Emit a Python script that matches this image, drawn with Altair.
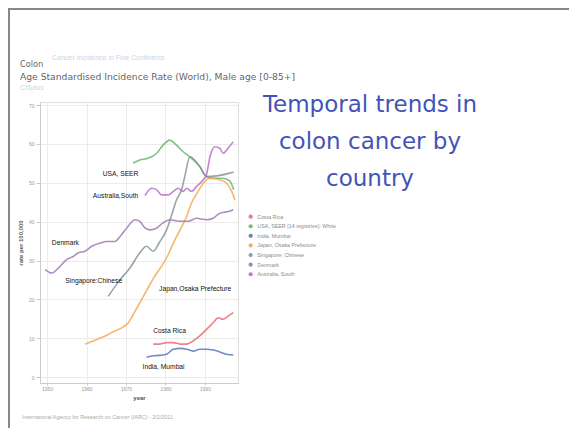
import altair as alt
import pandas as pd

# ---------------- data ----------------
series_names = ["Costa Rica", "USA, SEER (14 registries): White", "India, Mumbai",
                "Japan, Osaka Prefecture", "Singapore: Chinese", "Denmark", "Australia, South"]
series_colors = ["#e8606e", "#5cb35f", "#4f6fb8", "#f5a24b", "#7f8f97", "#9a6fb0", "#b565c4"]

costa_years = [1976.9, 1978.6, 1980.3, 1982.0, 1983.7, 1985.4, 1987.0, 1988.7, 1990.4, 1992.1, 1993.4, 1994.6, 1995.9, 1997.2]
costa_rate = [8.5, 8.5, 8.9, 8.9, 8.5, 8.5, 9.3, 10.6, 12.3, 14.0, 15.3, 14.9, 15.7, 16.6]

usa_years = [1971.8, 1973.5, 1975.6, 1977.8, 1979.4, 1981.1, 1982.8, 1984.5, 1986.2, 1988.7, 1990.4, 1992.5, 1994.6, 1996.3, 1997.3]
usa_rate = [55.1, 55.9, 56.3, 57.6, 59.7, 61.0, 59.7, 58.0, 56.7, 54.2, 51.6, 51.2, 51.2, 50.5, 48.2]

india_years = [1975.2, 1976.9, 1978.6, 1980.3, 1982.0, 1983.7, 1985.4, 1987.0, 1988.7, 1990.4, 1992.1, 1993.8, 1995.5, 1997.2]
india_rate = [5.1, 5.5, 5.6, 5.9, 7.2, 7.4, 7.2, 6.7, 7.2, 7.2, 7.0, 6.5, 5.9, 5.7]

japan_years = [1959.6, 1961.7, 1963.8, 1965.5, 1967.2, 1968.9, 1970.6, 1972.3, 1974.0, 1975.6, 1977.3, 1979.0,
               1980.7, 1982.0, 1983.7, 1985.4, 1986.6, 1988.3, 1989.6, 1991.3, 1993.8, 1995.5, 1996.8, 1997.6]
japan_rate = [8.5, 9.3, 10.2, 11.0, 11.9, 12.7, 14.0, 17.0, 20.0, 23.0, 26.0, 28.5,
              31.5, 34.5, 37.9, 41.4, 44.8, 47.8, 49.9, 51.2, 50.8, 49.9, 47.8, 45.6]

singapore_years = [1965.5, 1968.5, 1971.0, 1973.5, 1975.2, 1976.9, 1978.6, 1980.3, 1982.0, 1982.8, 1984.1,
                   1984.9, 1986.2, 1988.7, 1990.4, 1993.0, 1996.3, 1997.3]
singapore_rate = [20.8, 25.1, 28.1, 32.0, 33.7, 32.4, 34.9, 37.9, 43.1, 45.6, 48.2,
                  51.6, 56.7, 54.2, 51.6, 51.8, 52.5, 52.8]

denmark_years = [1949.5, 1951.2, 1952.9, 1955.0, 1956.7, 1957.9, 1959.6, 1961.3, 1963.4, 1965.1, 1967.2, 1968.5,
                 1970.2, 1972.3, 1973.5, 1974.8, 1976.1, 1977.8, 1979.4, 1981.1, 1983.5, 1985.8, 1987.9, 1990.4,
                 1992.1, 1993.8, 1995.9, 1997.2]
denmark_rate = [27.7, 26.8, 28.1, 30.3, 31.1, 32.0, 32.4, 33.7, 34.5, 34.9, 34.9, 36.2,
                38.4, 40.5, 40.1, 38.4, 37.9, 38.4, 39.7, 40.5, 40.1, 40.1, 40.9, 40.5,
                40.9, 42.2, 42.6, 43.1]

australia_years = [1974.8, 1976.5, 1977.8, 1979.0, 1980.7, 1982.0, 1983.2, 1984.5, 1985.4, 1986.6, 1987.9, 1989.6,
                   1990.4, 1991.3, 1992.5, 1993.8, 1994.6, 1995.9, 1997.2]
australia_rate = [46.7, 48.6, 48.2, 46.9, 46.9, 47.8, 48.6, 47.8, 48.6, 47.8, 49.1, 50.8,
                  52.1, 56.7, 59.3, 58.9, 57.6, 58.9, 60.6]

label_texts = ["USA, SEER", "Australia,South", "Denmark", "Singapore:Chinese",
               "Japan,Osaka Prefecture", "Costa Rica", "India, Mumbai"]
label_years = [1964.1, 1961.6, 1951.2, 1954.6, 1978.4, 1976.9, 1974.2]
label_rates = [52.3, 46.5, 34.4, 24.7, 22.8, 11.8, 2.7]

x_ticks = [1950, 1960, 1970, 1980, 1990]
y_ticks = [0, 10, 20, 30, 40, 50, 60, 70]

# ---------------- table ----------------
all_series = [
    (series_names[0], costa_years, costa_rate),
    (series_names[1], usa_years, usa_rate),
    (series_names[2], india_years, india_rate),
    (series_names[3], japan_years, japan_rate),
    (series_names[4], singapore_years, singapore_rate),
    (series_names[5], denmark_years, denmark_rate),
    (series_names[6], australia_years, australia_rate),
]
rows = []
for name, ys, vs in all_series:
    for yr, v in zip(ys, vs):
        rows.append({"registry": name, "year": yr, "rate": v})
df = pd.DataFrame(rows)
labels_df = pd.DataFrame({"label": label_texts, "year": label_years, "rate": label_rates})

PLOT_W, PLOT_H = 198, 281
FONT = "Liberation Sans"

xscale = alt.Scale(domain=[1948.2, 1998.4], nice=False, zero=False)
yscale = alt.Scale(domain=[-1.5, 70.8], nice=False, zero=False)

legend_def = alt.Legend(title="", orient="none", legendX=208, legendY=112,
                        symbolType="circle", symbolSize=18, symbolStrokeWidth=0,
                        symbolOpacity=0.85,
                        labelFontSize=5.3, labelColor="#8a8a8a", labelFont=FONT,
                        labelOffset=4, rowPadding=3.6)
color_enc = alt.Color("registry:N",
                      scale=alt.Scale(domain=series_names, range=series_colors),
                      legend=legend_def)

x_enc = alt.X("year:Q", scale=xscale,
              axis=alt.Axis(values=x_ticks, format="d", title="year", grid=True,
                            tickSize=2, labelPadding=1, titlePadding=3))
y_enc = alt.Y("rate:Q", scale=yscale,
              axis=alt.Axis(values=y_ticks, title="rate per 100,000", grid=True))

# invisible points: give the legend filled dots
dots = alt.Chart(df).mark_circle(size=0, opacity=0.85).encode(x=x_enc, y=y_enc, color=color_enc)

lines = alt.Chart(df).mark_line(strokeWidth=1.6, opacity=0.8, interpolate="monotone").encode(
    x=x_enc, y=y_enc, color=color_enc, detail="registry:N",
)

labels = alt.Chart(labels_df).mark_text(align="left", baseline="middle", font=FONT,
                                         fontSize=6.7, color="#111111").encode(
    x=alt.X("year:Q", scale=xscale),
    y=alt.Y("rate:Q", scale=yscale),
    text="label:N",
)

one = alt.Data(values=[{"k": 1}])


def deco_text(txt, x, y, size, color, weight="normal", align="left", font=FONT):
    return alt.Chart(one).mark_text(text=txt, align=align, baseline="middle", fontSize=size,
                                     color=color, fontWeight=weight, font=font).encode(
        x=alt.value(x), y=alt.value(y))


decor = [
    deco_text("Cancer Incidence in Five Continents", 12, -44, 7, "#c9d6ea"),
    deco_text("Colon", -20, -37, 8.2, "#666666", font="DejaVu Sans"),
    deco_text("Age Standardised Incidence Rate (World), Male age [0-85+]", -20, -25, 9.2, "#666666",
              font="DejaVu Sans"),
    deco_text("CI5plus", -20, -14, 7, "#c9d6ea"),
    deco_text("International Agency for Research on Cancer (IARC) - 2/2/2011", -18, 315, 5.4, "#aaaaaa"),
    deco_text("Temporal trends in", 330, 3, 23, "#4353b8", align="center", font="DejaVu Sans"),
    deco_text("colon cancer by", 330, 40, 23, "#4353b8", align="center", font="DejaVu Sans"),
    deco_text("country", 330, 77, 23, "#4353b8", align="center", font="DejaVu Sans"),
]

border_top = alt.Chart(one).mark_rule(color="#8c877c", strokeWidth=2).encode(
    x=alt.value(-32), x2=alt.value(529), y=alt.value(-93), y2=alt.value(-93))
border_left = alt.Chart(one).mark_rule(color="#8c877c", strokeWidth=2).encode(
    x=alt.value(-31), x2=alt.value(-31), y=alt.value(-93), y2=alt.value(326))

chart = alt.layer(dots, lines, labels, *decor, border_top, border_left).properties(
    width=PLOT_W, height=PLOT_H,
    autosize=alt.AutoSizeParams(type="none"),
    padding={"left": 32, "top": 94, "right": 331, "bottom": 45},
    background="white",
).configure_view(stroke="#dddddd").configure_axis(
    labelFontSize=5, labelColor="#9a9a9a", labelFont=FONT,
    tickColor="#cccccc", tickSize=4, domainColor="#cccccc",
    gridColor="#ebebeb", titleFontSize=6, titleColor="#555555", titleFont=FONT,
    titleFontWeight="bold", labelPadding=2, titlePadding=5,
)

chart.save("out.html", embed_options={"renderer": "svg", "actions": False})
